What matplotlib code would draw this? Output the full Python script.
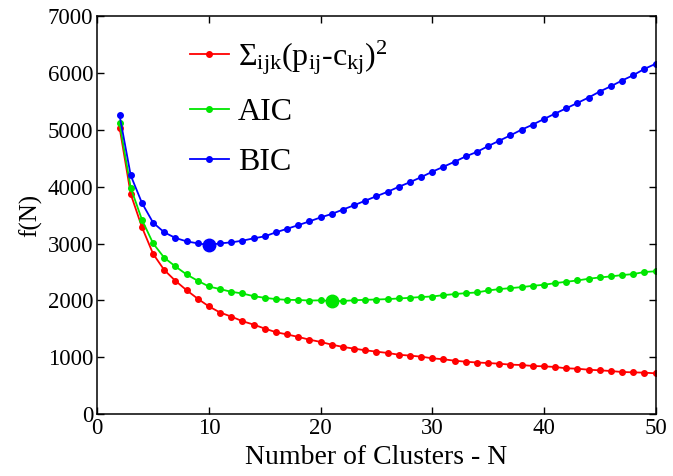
import matplotlib
matplotlib.use('Agg')
import matplotlib.pyplot as plt
import numpy as np

plt.rcParams['font.family'] = 'Liberation Serif'
plt.rcParams['mathtext.fontset'] = 'custom'
plt.rcParams['mathtext.rm'] = 'Liberation Serif'
plt.rcParams['mathtext.it'] = 'Liberation Serif'

n_clusters = np.arange(2, 51)

sq_err = [5040, 3870, 3290, 2820, 2535, 2345, 2180, 2030, 1895, 1787, 1716, 1635,
          1575, 1505, 1441, 1402, 1358, 1310, 1270, 1222, 1182, 1152, 1123, 1099,
          1076, 1045, 1029, 1011, 982, 965, 940, 922, 908, 899, 887, 870, 864, 847,
          841, 829, 806, 799, 781, 771, 758, 741, 735, 729, 718]

aic = [5115, 3980, 3422, 3004, 2751, 2598, 2457, 2346, 2245, 2199, 2152, 2122,
       2075, 2046, 2023, 2010, 2008, 1998, 2002, 1988, 1990, 2003, 2011, 2016,
       2023, 2034, 2046, 2060, 2069, 2093, 2111, 2128, 2140, 2175, 2199, 2216,
       2234, 2257, 2275, 2304, 2328, 2351, 2381, 2404, 2422, 2446, 2463, 2500,
       2512]

bic = [5256, 4198, 3716, 3368, 3198, 3099, 3039, 3004, 2975, 3004, 3021, 3051,
       3092, 3127, 3198, 3260, 3324, 3390, 3460, 3521, 3598, 3674, 3754, 3833,
       3910, 3998, 4079, 4168, 4263, 4351, 4439, 4533, 4612, 4714, 4809, 4903,
       5003, 5092, 5190, 5286, 5379, 5473, 5568, 5674, 5767, 5868, 5961, 6072,
       6161]

aic_best = 21
bic_best = 10

labels = ['Σ$_{\\mathrm{ijk}}$(p$_{\\mathrm{ij}}$-c$_{\\mathrm{kj}}$)$^{2}$', 'AIC', 'BIC']
colors = ['#ff0000', '#00e600', '#0000ff']

fig = plt.figure(figsize=(6.73, 4.76), dpi=100)
ax = fig.add_axes([0.1445, 0.13, 0.8295, 0.836])

for ys, lab, c in zip([sq_err, aic, bic], labels, colors):
    ax.plot(n_clusters, ys, '-o', color=c, lw=1.3, ms=4, label=lab)

# minima of the information criteria
ax.plot(aic_best, aic[aic_best - 2], 'o', color=colors[1], ms=9)
ax.plot(bic_best, bic[bic_best - 2], 'o', color=colors[2], ms=9)

ax.set_xlim(0, 50)
ax.set_ylim(0, 7000)
ax.set_xticks(range(0, 51, 10))
ax.set_yticks(range(0, 7001, 1000))
ax.tick_params(direction='in', top=True, right=True, length=5, labelsize=16.5, width=1)
ax.tick_params(axis='x', pad=3)
ax.tick_params(axis='y', pad=3)
for s in ax.spines.values():
    s.set_linewidth(1.1)

ax.set_xlabel('Number of Clusters - N', fontsize=20, labelpad=4)
ax.set_ylabel('f(N)', fontsize=18, labelpad=4)

ax.legend(loc='upper left', bbox_to_anchor=(0.115, 1.018), frameon=False, fontsize=23,
          handlelength=1.2, handletextpad=0.3, labelspacing=0.65)

fig.savefig('out.png', dpi=100)
